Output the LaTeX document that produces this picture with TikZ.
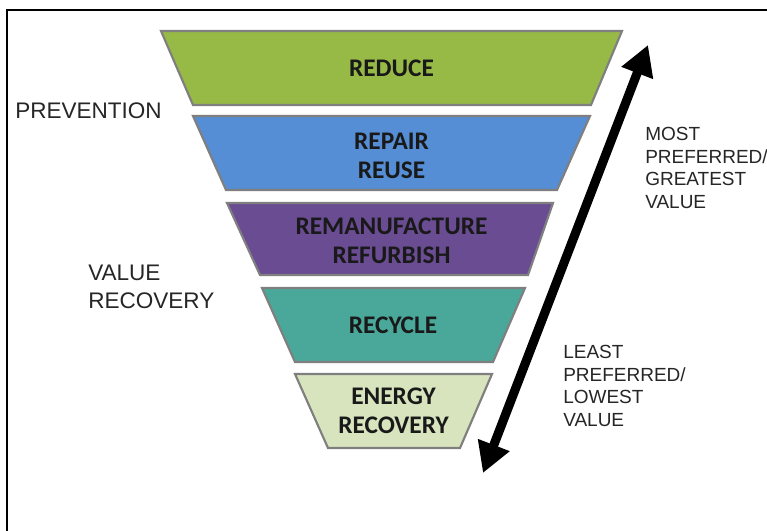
\documentclass[tikz,border=0pt]{standalone}
\usepackage{fontspec}
\setmainfont{Liberation Sans}
\newfontfamily\calib{Carlito}
\usetikzlibrary{arrows.meta}
\definecolor{cgreen}{HTML}{97BA47}
\definecolor{cblue}{HTML}{558ED5}
\definecolor{cpurple}{HTML}{6A4C93}
\definecolor{cteal}{HTML}{4AA89A}
\definecolor{clight}{HTML}{D7E4BD}
\definecolor{cedge}{HTML}{7F7F7F}
\begin{document}
\begin{tikzpicture}[x=0.75pt,y=-0.75pt,
  tier/.style={draw=cedge, line width=1.6pt, line join=miter},
  lbl/.style={align=center, inner sep=0pt, text=black!90,
    font=\calib\bfseries\fontsize{19}{21.5}\selectfont},
  side/.style={align=left, inner sep=0pt, anchor=north west, text=black!85},
  bigarrow/.style={line width=6.8pt,
    {Triangle[length=22.5pt,width=24pt]}-{Triangle[length=22.5pt,width=24pt]}}]
\useasboundingbox (0,0) rectangle (767,531);
\fill[white] (0,0) rectangle (767,531);
\draw[line width=1.2pt] (7,531) -- (7,10) -- (767,10);

% tiers
\path[tier, fill=cgreen] (161,31) -- (622,31) -- (591,105) -- (193,105) -- cycle;
\node[lbl] (reduce) at (391.5,68) {REDUCE};

\path[tier, fill=cblue] (193,116) -- (590,116) -- (557,190) -- (226,190) -- cycle;
\node[lbl] (repair) at (391.5,156) {REPAIR\\REUSE};

\path[tier, fill=cpurple] (227,203) -- (553,203) -- (528,275) -- (260,275) -- cycle;
\node[lbl] (reman) at (391.5,241) {REMANUFACTURE\\REFURBISH};

\path[tier, fill=cteal] (262,288) -- (525,288) -- (493,362) -- (295,362) -- cycle;
\node[lbl] (recycle) at (393,325) {RECYCLE};

\path[tier, fill=clight] (295,374) -- (492,374) -- (460,448) -- (328,448) -- cycle;
\node[lbl] (energy) at (393.5,411) {ENERGY\\RECOVERY};

% left labels
\node[side, font=\fontsize{16.9}{21}\selectfont] (prev) at (15,103) {PREVENTION};
\node[side, font=\fontsize{16.9}{21}\selectfont] (valrec) at (88,265) {VALUE\\RECOVERY};

% right labels
\node[side, font=\fontsize{14.25}{17}\selectfont] (most) at (645,127) {MOST\\PREFERRED/\\GREATEST\\VALUE};
\node[side, font=\fontsize{14.25}{17}\selectfont] (least) at (563,345) {LEAST\\PREFERRED/\\LOWEST\\VALUE};

% arrow
\coordinate (lo) at (483,473);
\coordinate (hi) at (648,45);
\draw[bigarrow] (lo) -- (hi);
\end{tikzpicture}
\end{document}
